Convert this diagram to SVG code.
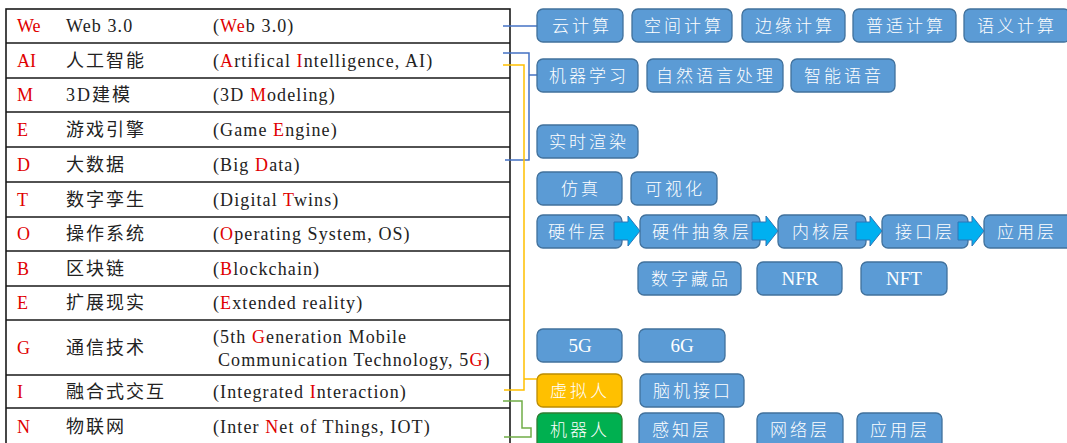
<svg xmlns="http://www.w3.org/2000/svg" width="1067" height="443" viewBox="0 0 1067 443">
<style>
.tb{fill:#fff;stroke:#1a1a1a;stroke-width:1.6}
.rl{stroke:#1a1a1a;stroke-width:1.6}
.ab{font-family:"Liberation Serif","Noto Sans CJK SC",serif;font-size:18px;fill:#e00000}
.zh{font-family:"Liberation Serif","Noto Sans CJK SC",serif;font-size:18px;fill:#222;letter-spacing:2px}
.en{font-family:"Liberation Serif","Noto Sans CJK SC",serif;font-size:18px;fill:#222;letter-spacing:1.1px}
.r{fill:#e00000}
.bx{fill:#5B9BD5;stroke:#41719C;stroke-width:1.3}
.by{fill:#FFC000;stroke:#BC8C00;stroke-width:1.3}
.bg{fill:#00B050;stroke:#2E7D32;stroke-width:1.3}
.bt{font-family:"Noto Sans CJK SC","Liberation Sans",sans-serif;font-weight:300;font-size:17px;fill:#fff;letter-spacing:3px;text-anchor:middle}
text.bs{font-family:"Liberation Serif",serif;font-size:19px;fill:#fff;text-anchor:middle}
.ar{fill:#00B0F0;stroke:#2E75B6;stroke-width:1}
.cb{fill:none;stroke:#4472C4;stroke-width:1.5}
.cy{fill:none;stroke:#FFC000;stroke-width:1.5}
.cg{fill:none;stroke:#70AD47;stroke-width:1.5}
</style>
<defs>
<path id="arw" d="M0,-9 H14 V-15 L26,0 L14,15 V9 H0 Z"/>
</defs>

<g id="table">
<rect class="tb" x="6" y="9" width="504" height="440"/>
<path class="rl" d="M6,43H510M6,78H510M6,112H510M6,147H510M6,182H510M6,217H510M6,251H510M6,286H510M6,320H510M6,375H510M6,408H510"/>
</g>

<g id="row-we"><text class="ab" x="17" y="32">We</text><text class="en" x="66" y="32">Web 3.0</text><text class="en" x="213" y="32">(<tspan class="r">We</tspan>b 3.0)</text></g>
<g id="row-ai"><text class="ab" x="17" y="67">AI</text><text class="zh" x="66" y="67">人工智能</text><text class="en" x="213" y="67">(<tspan class="r">A</tspan>rtifical <tspan class="r">I</tspan>ntelligence, AI)</text></g>
<g id="row-m"><text class="ab" x="17" y="101">M</text><text class="zh" x="66" y="101">3D建模</text><text class="en" x="213" y="101">(3D <tspan class="r">M</tspan>odeling)</text></g>
<g id="row-e1"><text class="ab" x="17" y="136">E</text><text class="zh" x="66" y="136">游戏引擎</text><text class="en" x="213" y="136">(Game <tspan class="r">E</tspan>ngine)</text></g>
<g id="row-d"><text class="ab" x="17" y="171">D</text><text class="zh" x="66" y="171">大数据</text><text class="en" x="213" y="171">(Big <tspan class="r">D</tspan>ata)</text></g>
<g id="row-t"><text class="ab" x="17" y="206">T</text><text class="zh" x="66" y="206">数字孪生</text><text class="en" x="213" y="206">(Digital <tspan class="r">T</tspan>wins)</text></g>
<g id="row-o"><text class="ab" x="17" y="240">O</text><text class="zh" x="66" y="240">操作系统</text><text class="en" x="213" y="240">(<tspan class="r">O</tspan>perating System, OS)</text></g>
<g id="row-b"><text class="ab" x="17" y="275">B</text><text class="zh" x="66" y="275">区块链</text><text class="en" x="213" y="275">(<tspan class="r">B</tspan>lockchain)</text></g>
<g id="row-e2"><text class="ab" x="17" y="309">E</text><text class="zh" x="66" y="309">扩展现实</text><text class="en" x="213" y="309">(<tspan class="r">E</tspan>xtended reality)</text></g>
<g id="row-g"><text class="ab" x="17" y="354">G</text><text class="zh" x="66" y="354">通信技术</text><text class="en" x="213" y="343">(5th <tspan class="r">G</tspan>eneration Mobile</text><text class="en" x="218" y="366">Communication Technology, 5<tspan class="r">G</tspan>)</text></g>
<g id="row-i"><text class="ab" x="17" y="398">I</text><text class="zh" x="66" y="398">融合式交互</text><text class="en" x="213" y="398">(Integrated <tspan class="r">I</tspan>nteraction)</text></g>
<g id="row-n"><text class="ab" x="17" y="433">N</text><text class="zh" x="66" y="433">物联网</text><text class="en" x="213" y="433">(Inter <tspan class="r">N</tspan>et of Things, IOT)</text></g>

<g id="connectors">
<path class="cb" d="M503,26H537"/>
<path class="cb" d="M503,53H529V160H505M529,75H537"/>
<path class="cy" d="M503,65H524V390H504M524,379H537"/>
<path class="cg" d="M503,401H522V428H531V437H504"/>
</g>

<g id="n-yun"><rect class="bx" x="537" y="9" width="86" height="33" rx="6"/><text class="bt" x="582" y="32">云计算</text></g>
<g id="n-kongjian"><rect class="bx" x="632" y="9" width="100" height="33" rx="6"/><text class="bt" x="684" y="32">空间计算</text></g>
<g id="n-bianyuan"><rect class="bx" x="742" y="9" width="103" height="33" rx="6"/><text class="bt" x="795" y="32">边缘计算</text></g>
<g id="n-pushi"><rect class="bx" x="853" y="9" width="103" height="33" rx="6"/><text class="bt" x="906" y="32">普适计算</text></g>
<g id="n-yuyi"><rect class="bx" x="964" y="9" width="106" height="33" rx="6"/><text class="bt" x="1017" y="32">语义计算</text></g>

<g id="n-jiqixuexi"><rect class="bx" x="537" y="59" width="101" height="33" rx="6"/><text class="bt" x="589" y="82">机器学习</text></g>
<g id="n-ziran"><rect class="bx" x="647" y="59" width="136" height="33" rx="6"/><text class="bt" x="716" y="82">自然语言处理</text></g>
<g id="n-zhineng"><rect class="bx" x="791" y="59" width="104" height="33" rx="6"/><text class="bt" x="844" y="82">智能语音</text></g>

<g id="n-shishi"><rect class="bx" x="537" y="125" width="101" height="33" rx="6"/><text class="bt" x="589" y="148">实时渲染</text></g>

<g id="n-fangzhen"><rect class="bx" x="537" y="172" width="85" height="33" rx="6"/><text class="bt" x="581" y="195">仿真</text></g>
<g id="n-keshihua"><rect class="bx" x="631" y="172" width="86" height="33" rx="6"/><text class="bt" x="675" y="195">可视化</text></g>

<g id="n-yingjian"><rect class="bx" x="537" y="215" width="85" height="33" rx="6"/><text class="bt" x="578" y="238">硬件层</text></g>
<g id="n-chouxiang"><rect class="bx" x="640" y="215" width="120" height="33" rx="6"/><text class="bt" x="702" y="238">硬件抽象层</text></g>
<g id="n-neihe"><rect class="bx" x="778" y="215" width="88" height="33" rx="6"/><text class="bt" x="822" y="238">内核层</text></g>
<g id="n-jiekou"><rect class="bx" x="882" y="215" width="86" height="33" rx="6"/><text class="bt" x="925" y="238">接口层</text></g>
<g id="n-yingyong"><rect class="bx" x="984" y="215" width="90" height="33" rx="6"/><text class="bt" x="1027" y="238">应用层</text></g>

<g id="arrows">
<use href="#arw" class="ar" x="614" y="231"/>
<use href="#arw" class="ar" x="752" y="231"/>
<use href="#arw" class="ar" x="856" y="231"/>
<use href="#arw" class="ar" x="958" y="231"/>
</g>

<g id="n-cangpin"><rect class="bx" x="638" y="262" width="103" height="33" rx="6"/><text class="bt" x="691" y="285">数字藏品</text></g>
<g id="n-nfr"><rect class="bx" x="757" y="262" width="85" height="33" rx="6"/><text class="bs" x="800" y="285" style="font-family:'Liberation Serif',serif">NFR</text></g>
<g id="n-nft"><rect class="bx" x="861" y="262" width="86" height="33" rx="6"/><text class="bs" x="904" y="285" style="font-family:'Liberation Serif',serif">NFT</text></g>

<g id="n-5g"><rect class="bx" x="537" y="329" width="85" height="33" rx="6"/><text class="bs" x="580" y="352" style="font-family:'Liberation Serif',serif">5G</text></g>
<g id="n-6g"><rect class="bx" x="639" y="329" width="86" height="33" rx="6"/><text class="bs" x="682" y="352" style="font-family:'Liberation Serif',serif">6G</text></g>

<g id="n-xuniren"><rect class="by" x="537" y="374" width="85" height="33" rx="6"/><text class="bt" x="580" y="397">虚拟人</text></g>
<g id="n-naoji"><rect class="bx" x="640" y="374" width="104" height="33" rx="6"/><text class="bt" x="693" y="397">脑机接口</text></g>

<g id="n-jiqiren"><rect class="bg" x="537" y="413" width="85" height="36" rx="6"/><text class="bt" x="580" y="436">机器人</text></g>
<g id="n-ganzhi"><rect class="bx" x="639" y="413" width="85" height="36" rx="6"/><text class="bt" x="682" y="436">感知层</text></g>
<g id="n-wangluo"><rect class="bx" x="757" y="413" width="86" height="36" rx="6"/><text class="bt" x="800" y="436">网络层</text></g>
<g id="n-yingyong2"><rect class="bx" x="857" y="413" width="85" height="36" rx="6"/><text class="bt" x="900" y="436">应用层</text></g>
</svg>
